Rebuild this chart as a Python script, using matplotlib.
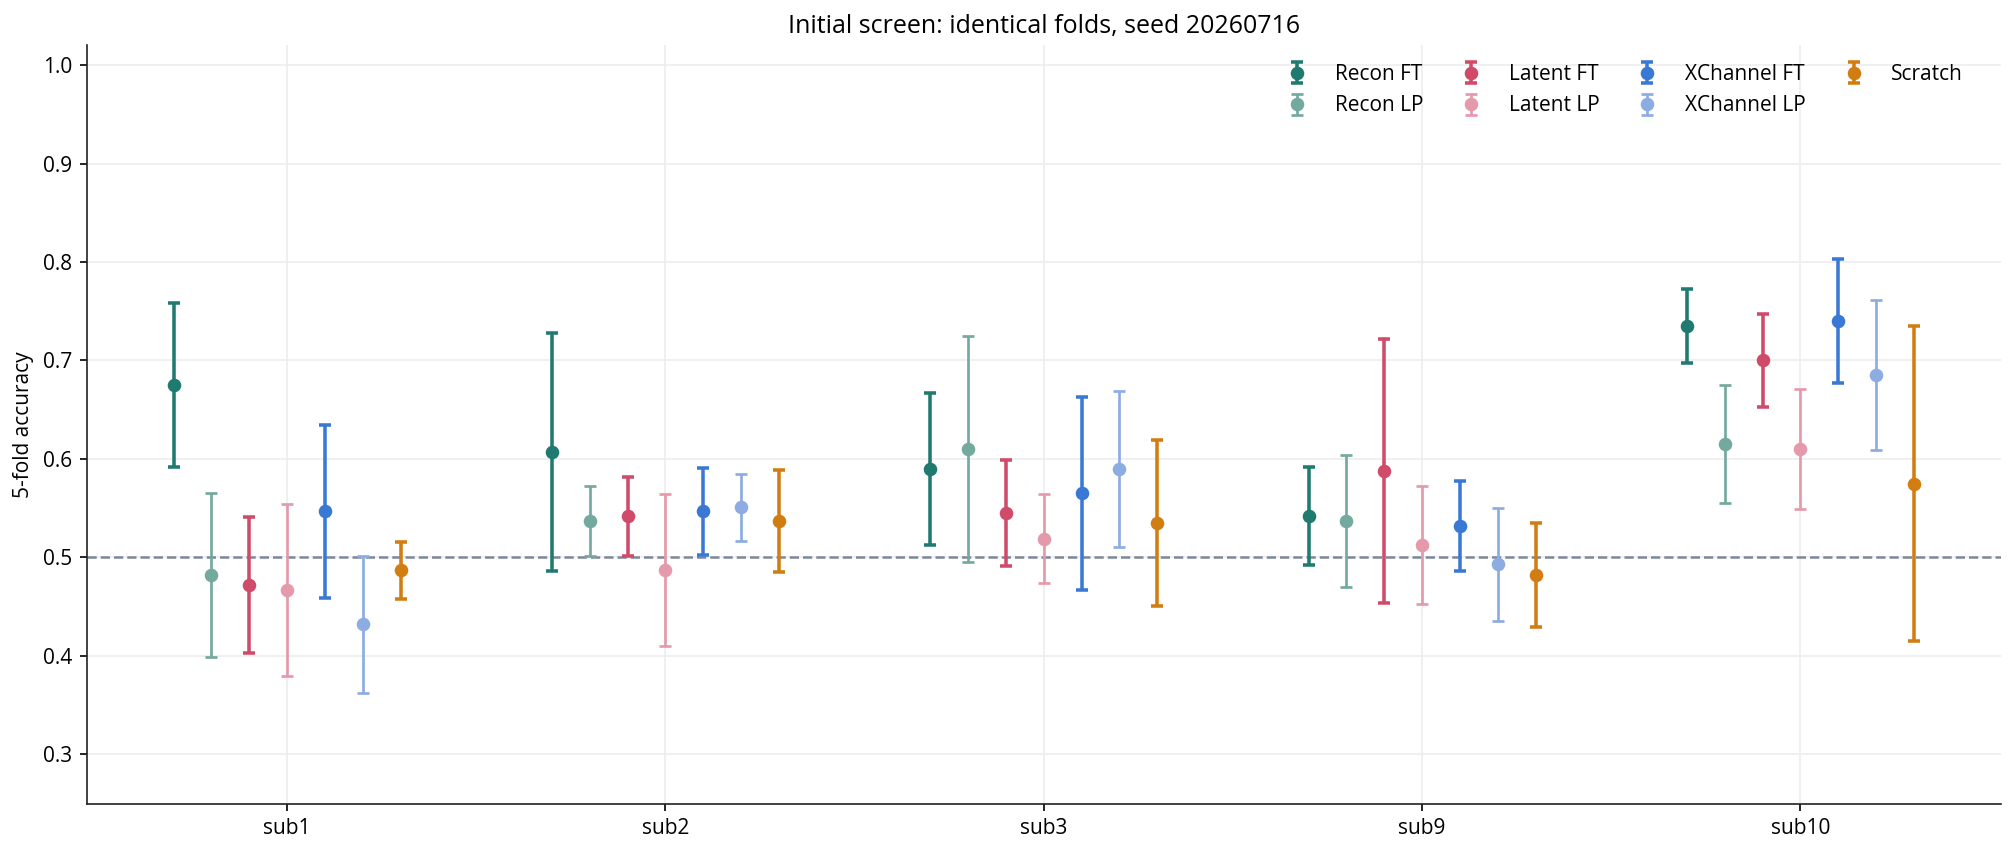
import matplotlib
matplotlib.use("Agg")
import matplotlib.pyplot as plt
import numpy as np

plt.rcParams["font.family"] = ["Open Sans", "DejaVu Sans"]

subjects = ["sub1", "sub2", "sub3", "sub9", "sub10"]
methods = ["Recon FT", "Recon LP", "Latent FT", "Latent LP", "XChannel FT", "XChannel LP", "Scratch"]
colors = ["#1f7a6f", "#74a99f", "#d04a6a", "#e59aab", "#3a78d6", "#8dade2", "#d17d12"]

# mean accuracy per method (rows) and subject (cols)
means = [
    [0.675, 0.607, 0.590, 0.542, 0.735],
    [0.482, 0.537, 0.610, 0.537, 0.615],
    [0.472, 0.542, 0.545, 0.588, 0.700],
    [0.467, 0.487, 0.519, 0.513, 0.610],
    [0.547, 0.547, 0.565, 0.532, 0.740],
    [0.432, 0.551, 0.590, 0.493, 0.685],
    [0.487, 0.537, 0.535, 0.482, 0.575],
]
errors = [
    [0.083, 0.121, 0.077, 0.050, 0.038],
    [0.083, 0.036, 0.115, 0.067, 0.060],
    [0.069, 0.040, 0.054, 0.134, 0.047],
    [0.087, 0.077, 0.045, 0.060, 0.061],
    [0.088, 0.044, 0.098, 0.046, 0.063],
    [0.070, 0.034, 0.079, 0.057, 0.076],
    [0.029, 0.052, 0.084, 0.053, 0.160],
]
chance = 0.5

fig = plt.figure(figsize=(2015 / 150, 855 / 150), dpi=150)
ax = fig.add_axes([0.043, 0.060, 0.950, 0.887])

x = np.arange(len(subjects))
offsets = (np.arange(len(methods)) - 3) * 0.1
for i, name in enumerate(methods):
    lw = 1.3 if name.endswith("LP") else 1.7
    ax.errorbar(x + offsets[i], means[i], yerr=errors[i], fmt="o", color=colors[i],
                ecolor=colors[i], elinewidth=lw, capthick=lw, capsize=3, markersize=5.5,
                label=name, zorder=3)

ax.axhline(chance, color="#7d8899", linestyle="--", linewidth=1.2, zorder=2)
ax.set_xticks(x)
ax.set_xticklabels(subjects, fontsize=10)
ax.tick_params(axis="y", labelsize=10)
ax.set_ylim(0.25, 1.02)
ax.set_yticks([0.3, 0.4, 0.5, 0.6, 0.7, 0.8, 0.9, 1.0])
ax.set_ylabel("5-fold accuracy", fontsize=10)
ax.set_title("Initial screen: identical folds, seed 20260716", fontsize=12)
ax.grid(color="#ededed", linewidth=0.8, zorder=0)
ax.set_axisbelow(True)
for side in ["top", "right"]:
    ax.spines[side].set_visible(False)
for side in ["left", "bottom"]:
    ax.spines[side].set_color("#222222")
ax.legend(ncol=4, frameon=False, loc="upper right", bbox_to_anchor=(0.99, 1.0),
          fontsize=10, columnspacing=1.3)

fig.savefig("out.png", dpi=150)
